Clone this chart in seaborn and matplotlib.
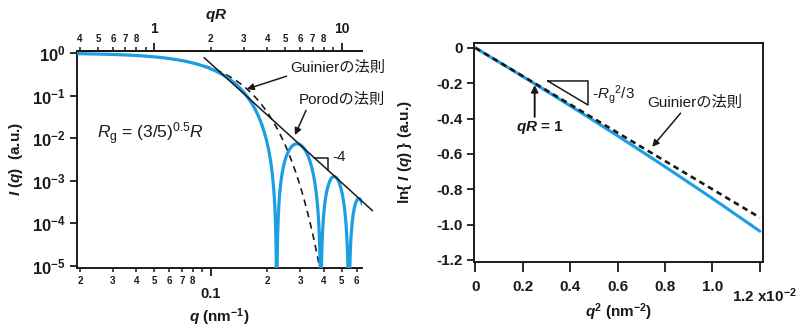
import numpy as np
import pandas as pd
import matplotlib
matplotlib.use("Agg")
import matplotlib.pyplot as plt
import seaborn as sns

# ---------------- data ----------------
R_nm = 20.0                      # sphere radius (qR = 1 at q = 0.05 nm^-1)
Rg2_over_3 = 0.6 * R_nm**2 / 3   # Rg = (3/5)^0.5 R
q_limits = [0.0193, 0.64]        # left panel q range (nm^-1)
I_limits = [0.9e-5, 1.13]
porod_qR_span = [1.84, 14.6]     # extent of the q^-4 line (in qR)
q2_limits = [-0.00006, 0.01213]  # right panel q^2 range
lnI_limits = [-1.212, 0.028]

bottom_major = [0.1]
bottom_minor = [0.02, 0.03, 0.04, 0.05, 0.06, 0.07, 0.08, 0.09, 0.2, 0.3, 0.4, 0.5, 0.6]
bottom_minor_labels = ["2", "3", "4", "5", "6", "7", "8", "", "2", "3", "4", "5", "6"]
top_major = [1, 10]
top_minor = [0.4, 0.5, 0.6, 0.7, 0.8, 0.9, 2, 3, 4, 5, 6, 7, 8, 9]
top_minor_labels = ["4", "5", "6", "7", "8", "", "2", "3", "4", "5", "6", "7", "8", ""]
y_exps = [0, -1, -2, -3, -4, -5]
right_xticks = [0, 0.002, 0.004, 0.006, 0.008, 0.010, 0.012]
right_xlabels = ["0", "0.2", "0.4", "0.6", "0.8", "1.0", ""]
right_yticks = [0, -0.2, -0.4, -0.6, -0.8, -1.0, -1.2]
right_ylabels = ["0", "-0.2", "-0.4", "-0.6", "-0.8", "-1.0", "-1.2"]

BLUE = "#1b9ee2"

# ---------------- model curves (sphere form factor) ----------------
def sphere(qR):
    return (3 * (np.sin(qR) - qR * np.cos(qR)) / qR**3) ** 2

q = np.geomspace(q_limits[0], 0.645, 6000)
df_left = pd.DataFrame({"q": q, "I": sphere(q * R_nm), "G": np.exp(-q**2 * Rg2_over_3)})
qp = np.array(porod_qR_span) / R_nm
df_porod = pd.DataFrame({"q": qp, "I": 9 / (qp * R_nm) ** 4})

q2 = np.linspace(1e-7, 0.012, 400)
df_right = pd.DataFrame({"q2": q2, "lnI": np.log(sphere(np.sqrt(q2) * R_nm)),
                         "G": -q2 * Rg2_over_3})

# ---------------- style ----------------
sns.set_theme(style="ticks")
plt.rcParams["font.family"] = ["Liberation Sans", "Noto Sans CJK JP", "DejaVu Sans"]
plt.rcParams["mathtext.fontset"] = "custom"
plt.rcParams["mathtext.rm"] = "Liberation Sans"
plt.rcParams["mathtext.it"] = "Liberation Sans:italic"
plt.rcParams["mathtext.bf"] = "Liberation Sans:bold"
plt.rcParams["mathtext.bfit"] = "Liberation Sans:bold:italic"
JP = ["Liberation Sans", "Noto Sans CJK JP"]
K = "#1a1a1a"

fig = plt.figure(figsize=(7.98, 3.28), dpi=100)
ax1 = fig.add_axes([0.0965, 0.183, 0.357, 0.662])
ax2 = fig.add_axes([0.594, 0.201, 0.362, 0.668])

# ================= left panel =================
ax1.set_xscale("log")
ax1.set_yscale("log")
sns.lineplot(data=df_left, x="q", y="G", ax=ax1, color="k", lw=1.2,
             linestyle=(0, (4, 3)), estimator=None, zorder=2)
sns.lineplot(data=df_left, x="q", y="I", ax=ax1, color=BLUE, lw=2.3,
             estimator=None, zorder=3)
sns.lineplot(data=df_porod, x="q", y="I", ax=ax1, color="k", lw=1.1,
             estimator=None, zorder=4, clip_on=False)
ax1.set_xlim(*q_limits)
ax1.set_ylim(*I_limits)

for s in ["left", "bottom", "top"]:
    ax1.spines[s].set_linewidth(1.4)
    ax1.spines[s].set_color(K)
ax1.spines["right"].set_visible(False)

ax1.set_xticks(bottom_major, labels=["0.1"])
ax1.set_xticks(bottom_minor, labels=bottom_minor_labels, minor=True)
ax1.tick_params(axis="x", which="major", length=6, width=1.3, pad=7.5,
                labelsize=10.5, colors=K, direction="out")
ax1.tick_params(axis="x", which="minor", length=3.2, width=1.1, pad=2.5,
                labelsize=7, colors=K, direction="out")
for t in ax1.get_xticklabels(which="both"):
    t.set_fontweight("bold")

ax1.set_yticks([10.0**e for e in y_exps],
               labels=[r"10$^{\mathbf{%d}}$" % e for e in y_exps])
ax1.yaxis.set_minor_locator(matplotlib.ticker.NullLocator())
ax1.tick_params(axis="y", which="major", length=5, width=1.3, pad=3,
                labelsize=12, colors=K)
for t in ax1.get_yticklabels():
    t.set_fontweight("bold")

sec = ax1.secondary_xaxis("top", functions=(lambda x: x * R_nm, lambda x: x / R_nm))
sec.set_xticks(top_major, labels=["1", "10"])
sec.set_xticks(top_minor, labels=top_minor_labels, minor=True)
sec.tick_params(axis="x", which="major", length=6, width=1.3, pad=4.5,
                labelsize=10, colors=K)
sec.tick_params(axis="x", which="minor", length=3.2, width=1.1, pad=1.5,
                labelsize=7, colors=K)
for t in sec.get_xticklabels(which="both"):
    t.set_fontweight("bold")
sec.spines["top"].set_linewidth(1.4)
sec.spines["top"].set_color(K)
ax1.text(0.49, 1.165, r"$\mathbfit{qR}$", transform=ax1.transAxes, fontsize=11,
         ha="center", va="center", color=K)

ax1.set_xlabel(r"$\mathbfit{q}$ (nm$^{\mathbf{-1}}$)", fontsize=11, fontweight="bold", color=K)
ax1.xaxis.set_label_coords(0.5, -0.225)
ax1.xaxis.label.set_va("center")
ax1.set_ylabel(r"$\mathbfit{I}$ ($\mathbfit{q}$)  (a.u.)", fontsize=11, fontweight="bold", color=K)
ax1.yaxis.set_label_coords(-0.214, 0.5)
ax1.yaxis.label.set_va("center")

ax1.text(0.07, 0.62, r"$R_{\mathrm{g}}$ = (3/5)$^{0.5}$$R$", transform=ax1.transAxes,
         fontsize=12.5, va="center", ha="left", color=K)

ax1.annotate("Guinierの法則", xy=(0.1556, 0.143), xytext=(0.264, 0.444),
             fontsize=11, family=JP, va="center", ha="left", color=K,
             arrowprops=dict(arrowstyle="-|>", color="k", lw=1.1, mutation_scale=10,
                             shrinkA=0, shrinkB=0, relpos=(0, 0.0)))
ax1.annotate("Porodの法則", xy=(0.281, 0.0119), xytext=(0.295, 0.0788),
             fontsize=11, family=JP, va="center", ha="left", color=K,
             arrowprops=dict(arrowstyle="-|>", color="k", lw=1.1, mutation_scale=10,
                             shrinkA=0, shrinkB=0, relpos=(0.1, 0.0)))
# slope marker for q^-4
qa, qb = 0.357, 0.42
Ia, Ib = 9 / (qa * R_nm) ** 4, 9 / (qb * R_nm) ** 4
ax1.plot([qa, qb, qb], [Ia, Ia, Ib], color="k", lw=1.1, zorder=4)
ax1.text(0.447, 0.0037, "-4", fontsize=11, va="center", ha="left", color=K)

# ================= right panel =================
sns.lineplot(data=df_right, x="q2", y="lnI", ax=ax2, color=BLUE, lw=2.2,
             estimator=None, zorder=2)
sns.lineplot(data=df_right, x="q2", y="G", ax=ax2, color="k", lw=1.9,
             linestyle=(0, (2.2, 1.6)), estimator=None, zorder=3)
ax2.set_xlim(*q2_limits)
ax2.set_ylim(*lnI_limits)
for s in ax2.spines.values():
    s.set_linewidth(1.4)
    s.set_color(K)
ax2.set_xticks(right_xticks, labels=right_xlabels)
ax2.set_yticks(right_yticks, labels=right_ylabels)
ax2.tick_params(axis="x", length=7.5, width=1.3, pad=5.5, labelsize=11, colors=K)
ax2.tick_params(axis="y", length=5, width=1.3, pad=3, labelsize=11, colors=K)
for t in ax2.get_xticklabels() + ax2.get_yticklabels():
    t.set_fontweight("bold")
ax2.annotate(r"1.2 x10$^{\mathbf{-2}}$", xy=(0.012, 0), xycoords=("data", "axes fraction"),
             xytext=(3, -24), textcoords="offset points", ha="center", va="center",
             fontsize=11, fontweight="bold", color=K, annotation_clip=False)

ax2.set_xlabel(r"$\mathbfit{q}^{\mathbf{2}}$ (nm$^{\mathbf{-2}}$)", fontsize=11,
               fontweight="bold", color=K)
ax2.xaxis.set_label_coords(0.5, -0.228)
ax2.xaxis.label.set_va("center")
ax2.set_ylabel(r"ln{ $\mathbfit{I}$ ($\mathbfit{q}$) } (a.u.)", fontsize=11,
               fontweight="bold", color=K)
ax2.yaxis.set_label_coords(-0.239, 0.5)
ax2.yaxis.label.set_va("center")

# slope triangle
ax2.plot([0.00305, 0.00475, 0.00475, 0.00305], [-0.187, -0.187, -0.323, -0.187],
         color="k", lw=1.1)
ax2.text(0.00492, -0.266, r"-$R_{\mathrm{g}}$$^{2}$/3", fontsize=11, va="center",
         ha="left", color=K)
ax2.annotate("", xy=(0.0025, -0.21), xytext=(0.0025, -0.39),
             arrowprops=dict(arrowstyle="-|>", color="k", lw=1.4, mutation_scale=10,
                             shrinkA=0, shrinkB=0))
ax2.text(0.0017, -0.453, r"$\mathbfit{qR}$ = 1", fontsize=11, fontweight="bold",
         va="center", ha="left", color=K)
ax2.annotate("Guinierの法則", xy=(0.00746, -0.56), xytext=(0.00725, -0.311),
             fontsize=11, family=JP, va="center", ha="left", color=K,
             arrowprops=dict(arrowstyle="-|>", color="k", lw=1.1, mutation_scale=10,
                             shrinkA=0, shrinkB=0, relpos=(0.38, 0.0)))

fig.savefig("out.png", dpi=100)
